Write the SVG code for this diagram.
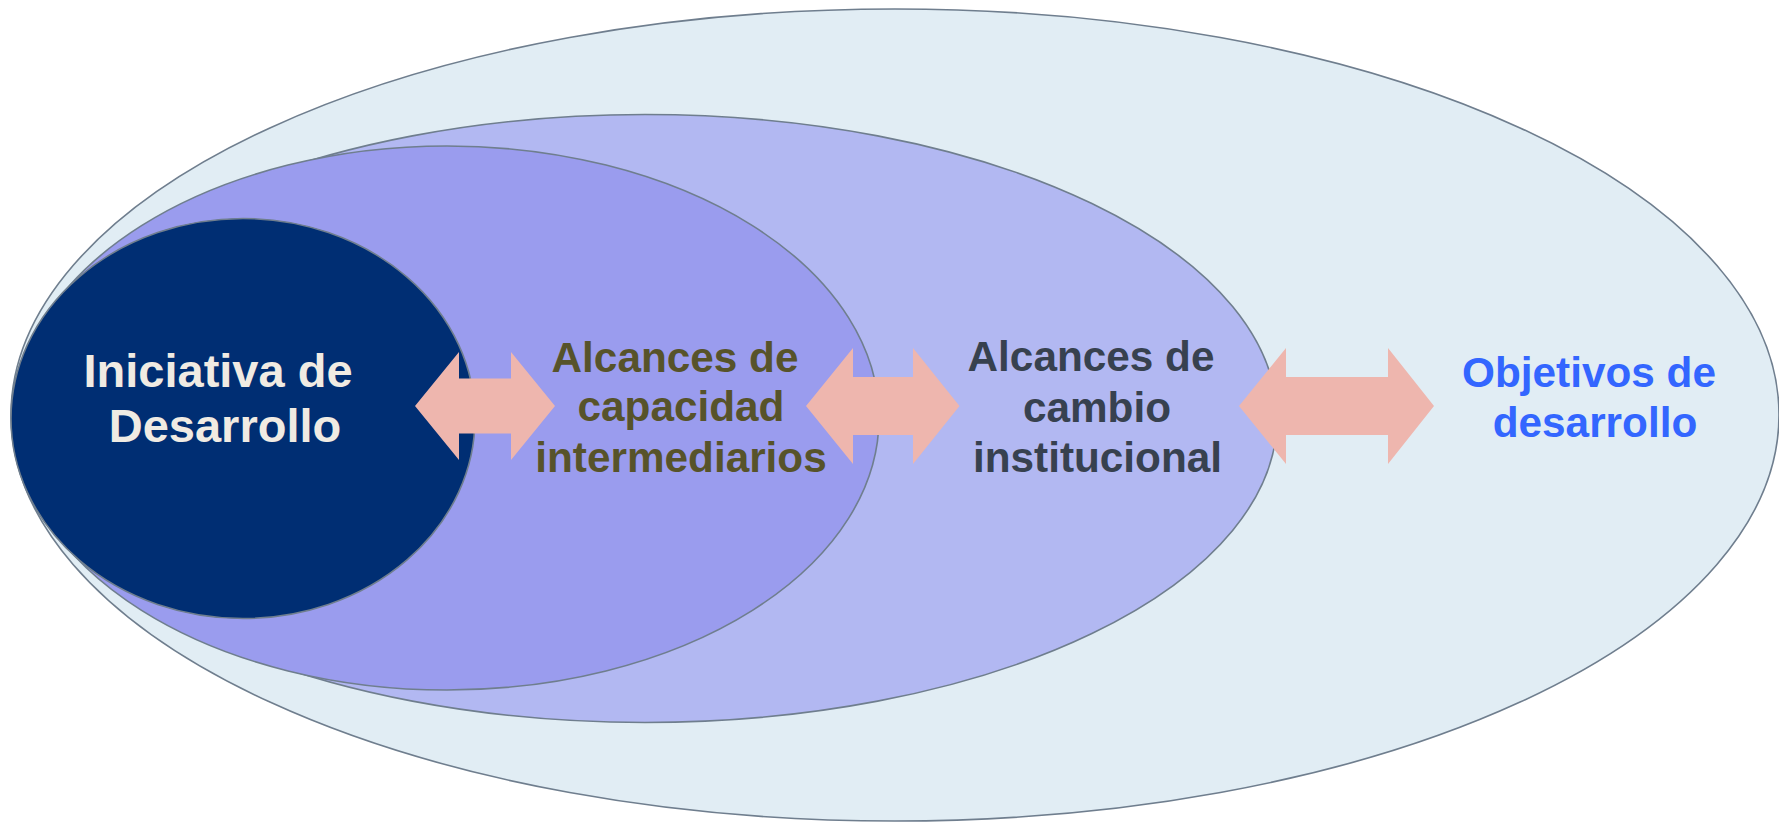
<svg xmlns="http://www.w3.org/2000/svg" width="1779" height="822" viewBox="0 0 1779 822">
<style>
.ell{stroke:#6F7E8E;stroke-width:1.6}
.arr{fill:#EEB6AE;stroke:none}
.t{font-family:"Liberation Sans",Arial,sans-serif;font-weight:bold;text-anchor:middle}
</style>
<rect width="1779" height="822" fill="#FFFFFF"/>
<g id="objetivos">
<ellipse class="ell" cx="895" cy="415" rx="884" ry="406" fill="#E1EDF4"/>
</g>
<g id="cambio">
<ellipse class="ell" cx="645" cy="418.5" rx="632" ry="304" fill="#B2B8F2"/>
</g>
<g id="capacidad">
<ellipse class="ell" cx="447" cy="418" rx="432" ry="272" fill="#9A9CEE"/>
</g>
<g id="iniciativa">
<ellipse class="ell" cx="243" cy="418.5" rx="232" ry="200" fill="#002E73"/>
</g>
<g id="connectors">
<path class="arr" d="M415,406 L459,352 L459,378.5 L511,378.5 L511,352 L555,406 L511,460 L511,433.5 L459,433.5 L459,460 Z"/>
<path class="arr" d="M806,406 L853,348 L853,377 L913,377 L913,348 L959.5,406 L913,464 L913,435 L853,435 L853,464 Z"/>
<path class="arr" d="M1239,406 L1286,348 L1286,377 L1388,377 L1388,348 L1434,406 L1388,464 L1388,435 L1286,435 L1286,464 Z"/>
</g>
<g id="label-iniciativa" class="t" font-size="47" fill="#F0EBE3">
<text x="218" y="387">Iniciativa de</text>
<text x="225" y="442">Desarrollo</text>
</g>
<g id="label-capacidad" class="t" font-size="42.3" fill="#57532A">
<text x="675" y="372">Alcances de</text>
<text x="681" y="421">capacidad</text>
<text x="681" y="471.5">intermediarios</text>
</g>
<g id="label-cambio" class="t" font-size="42.3" fill="#37414F">
<text x="1091" y="371">Alcances de</text>
<text x="1097" y="421.5">cambio</text>
<text x="1097.5" y="471.5">institucional</text>
</g>
<g id="label-objetivos" class="t" font-size="42.3" fill="#3366FF">
<text x="1589" y="387">Objetivos de</text>
<text x="1595" y="437">desarrollo</text>
</g>
</svg>
